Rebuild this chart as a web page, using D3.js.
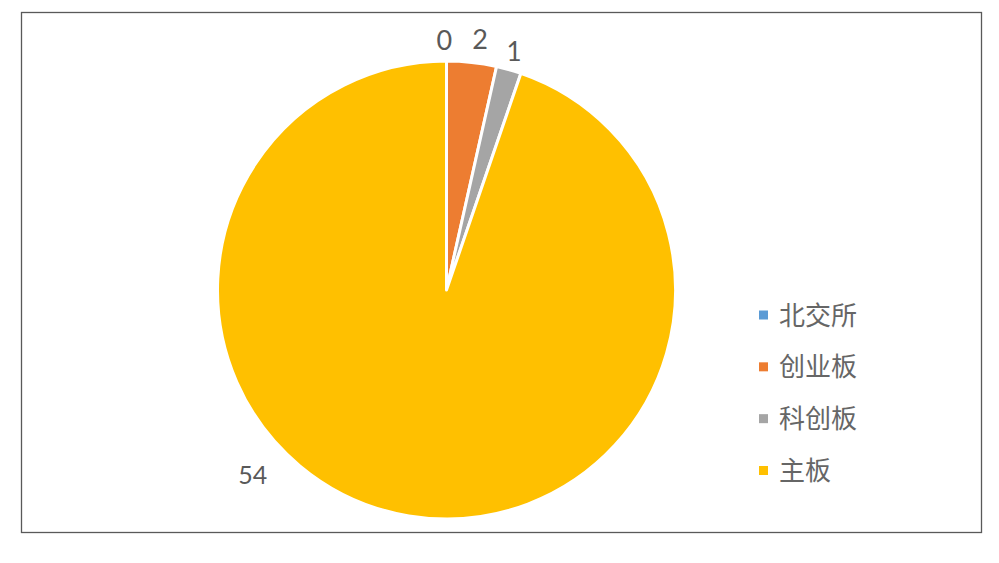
<!DOCTYPE html>
<html><head><meta charset="utf-8">
<script src="https://cdn.jsdelivr.net/npm/d3@7"></script>
<style>html,body{margin:0;padding:0;background:#fff;}</style>
</head><body>
<svg id="chart" width="999" height="563"></svg>
<script>
const categories = ["北交所", "创业板", "科创板", "主板"];
const values = [0, 2, 1, 54];
const colors = ["#5B9BD5", "#ED7D31", "#A5A5A5", "#FFC000"];
// label placement (Excel "best fit"): angle in degrees (null = slice mid angle) and radius
const labelAngle = [-0.5, 7.6, null, 226.5];
const labelRadius = [251, 254, 248, 267];
const labelSize = [27, 27, 26, 25];

const svg = d3.select("#chart");
svg.append("rect").attr("x", 21.5).attr("y", 12.5).attr("width", 960).attr("height", 520)
  .attr("fill", "#fff").attr("stroke", "#595959").attr("stroke-width", 1.3);

const cx = 446.5, cy = 290, r = 229;
const pie = d3.pie().sort(null).value(d => d)(values);
const arc = d3.arc().innerRadius(0).outerRadius(r);
const g = svg.append("g").attr("transform", `translate(${cx},${cy})`);
g.selectAll("path").data(pie).join("path")
  .attr("d", arc).attr("fill", (d, i) => colors[i])
  .attr("stroke", "#fff").attr("stroke-width", 3).attr("stroke-linejoin", "round");

g.selectAll("text.lbl").data(pie).join("text").attr("class", "lbl")
  .attr("transform", (d, i) => {
    const a = labelAngle[i] != null ? labelAngle[i] * Math.PI / 180 : (d.startAngle + d.endAngle) / 2;
    const rr = labelRadius[i];
    return `translate(${rr * Math.sin(a)},${-rr * Math.cos(a)})`;
  })
  .attr("text-anchor", "middle").attr("dominant-baseline", "central")
  .attr("font-family", "Lato, 'Open Sans', sans-serif").attr("font-size", (d, i) => labelSize[i])
  .attr("fill", "#595959").text(d => d.data);

const leg = svg.append("g");
const legY = d3.scalePoint().domain(categories).range([315, 470.5]);
categories.forEach((c, i) => {
  const y = legY(c);
  leg.append("rect").attr("x", 759).attr("y", y - 4.5).attr("width", 9).attr("height", 9).attr("fill", colors[i]);
  leg.append("text").attr("x", 779).attr("y", y - 2).attr("dominant-baseline", "central")
    .attr("font-family", "'Noto Sans CJK SC', sans-serif").attr("font-size", 26)
    .attr("fill", "#666").text(c);
});
</script>
</body></html>
